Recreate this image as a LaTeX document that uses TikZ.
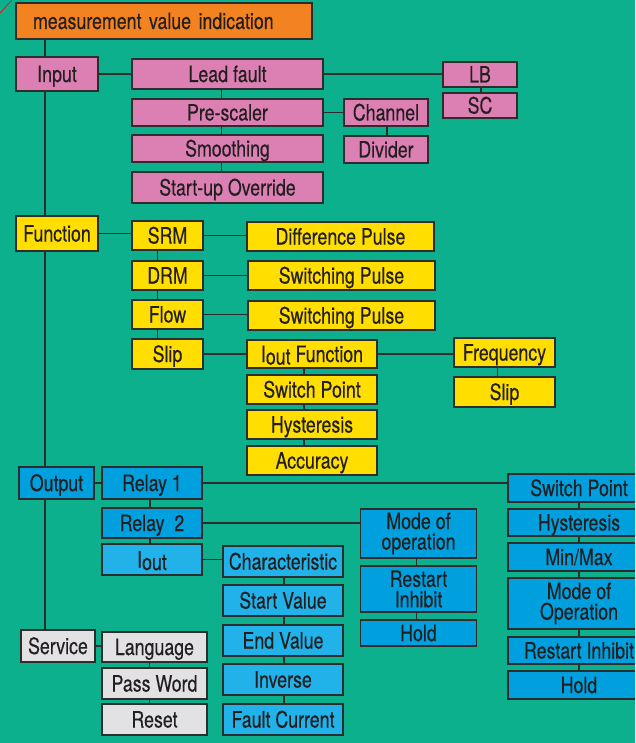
\documentclass[tikz,border=0pt]{standalone}
\usepackage{fontspec}
\setmainfont{TeX Gyre Heros}[FakeStretch=0.79,FakeBold=0.3]
\usetikzlibrary{positioning}

\definecolor{bg}{RGB}{12,176,141}
\definecolor{edge}{RGB}{45,45,45}
\definecolor{ink}{RGB}{35,31,32}
\definecolor{orangefill}{RGB}{243,130,33}
\definecolor{pinkfill}{RGB}{220,128,180}
\definecolor{yellowfill}{RGB}{255,222,0}
\definecolor{bluefill}{RGB}{0,160,222}
\definecolor{lightblue}{RGB}{32,178,232}
\definecolor{greyfill}{RGB}{226,226,228}

\newcommand{\Iout}{I\raisebox{-2.5pt}{out}}

\begin{document}
\begin{tikzpicture}[x=1pt,y=-1pt,
    box/.style={draw=edge,line width=1.2pt,text=ink,inner sep=0pt,align=center,
                text height=16pt,text depth=0pt,font=\fontsize{22.5}{20.5}\selectfont},
    twoline/.style={text height=,text depth=},
    wh/.style 2 args={minimum width=#1pt,minimum height=#2pt},
    orangebox/.style={box,fill=orangefill},
    pinkbox/.style={box,fill=pinkfill},
    yellowbox/.style={box,fill=yellowfill},
    bluebox/.style={box,fill=bluefill},
    lightbox/.style={box,fill=lightblue},
    greybox/.style={box,fill=greyfill},
    link/.style={draw=edge,line width=1.2pt}]

    % page and background
    \useasboundingbox (0,0) rectangle (635,743);
    \clip (0,0) rectangle (635,743);
    \fill[bg] (0,0) rectangle (635,743);
    \draw[red,line width=0.6pt] (0,13) -- (12,0);

    % top bar
    \node[orangebox,text width=262pt,inner xsep=17pt,minimum height=36pt,align=left] (title) at (164,21) {measurement value indication};

    % input
    \node[pinkbox,wh={82}{34}] (input) at (57,74) {Input};
    \node[pinkbox,wh={191}{30}] (lead) at (227.5,74) {Lead fault};
    \node[pinkbox,wh={191}{27}] (pre) at (227.5,112.5) {Pre-scaler};
    \node[pinkbox,wh={191}{27}] (smooth) at (227.5,148.5) {Smoothing};
    \node[pinkbox,wh={191}{31}] (startup) at (227.5,187.5) {Start-up Override};
    \node[pinkbox,wh={74}{25}] (lb) at (480,74.5) {LB};
    \node[pinkbox,wh={74}{25}] (sc) at (480,105.5) {SC};
    \node[pinkbox,wh={84}{27}] (channel) at (386,112.5) {Channel};
    \node[pinkbox,wh={84}{27}] (divider) at (386,149.5) {Divider};

    % function
    \node[yellowbox,wh={82}{35}] (function) at (57,233.5) {Function};
    \node[yellowbox,wh={71}{29}] (srm) at (167.5,235.5) {SRM};
    \node[yellowbox,wh={71}{29}] (drm) at (167.5,275.5) {DRM};
    \node[yellowbox,wh={71}{29}] (flow) at (167.5,314.5) {Flow};
    \node[yellowbox,wh={71}{30}] (slip) at (167.5,354) {Slip};
    \node[yellowbox,wh={187}{29}] (diff) at (340.5,236.5) {Difference Pulse};
    \node[yellowbox,wh={187}{29}] (swpa) at (341.5,275.5) {Switching Pulse};
    \node[yellowbox,wh={187}{29}] (swpb) at (341.5,315.5) {Switching Pulse};
    \node[yellowbox,wh={130}{28}] (ioutf) at (312,354) {\Iout\ Function};
    \node[yellowbox,wh={130}{29}] (swpt) at (312,389.5) {Switch Point};
    \node[yellowbox,wh={130}{29}] (hyst) at (312,424.5) {Hysteresis};
    \node[yellowbox,wh={130}{29}] (accu) at (312,460.5) {Accuracy};
    \node[yellowbox,wh={101}{29}] (freq) at (504.5,352.5) {Frequency};
    \node[yellowbox,wh={101}{30}] (slipb) at (504.5,392) {Slip};

    % output
    \node[bluebox,wh={75}{32}] (output) at (56.5,483) {Output};
    \node[bluebox,wh={100}{32}] (relaya) at (152,483) {Relay 1};
    \node[bluebox,wh={100}{30}] (relayb) at (152,523) {Relay~~2};
    \node[lightbox,wh={100}{31}] (iout) at (152,559.5) {\Iout};
    \node[lightbox,wh={120}{31}] (charac) at (283,561.5) {Characteristic};
    \node[lightbox,wh={120}{31}] (startv) at (283,600.5) {Start Value};
    \node[lightbox,wh={120}{31}] (endv) at (283,640.5) {End Value};
    \node[lightbox,wh={120}{31}] (inverse) at (283,679.5) {Inverse};
    \node[lightbox,wh={120}{31}] (fault) at (283,719.5) {Fault Current};
    \node[bluebox,twoline,wh={116}{49}] (modeop) at (418.5,533.5) {Mode of\\operation};
    \node[bluebox,twoline,wh={116}{46}] (restart) at (418.5,589) {Restart\\Inhibit};
    \node[bluebox,wh={116}{26}] (hold) at (418.5,633) {Hold};
    \node[bluebox,wh={142}{28}] (rsw) at (579,488) {Switch Point};
    \node[bluebox,wh={142}{27}] (rhyst) at (579,522.5) {Hysteresis};
    \node[bluebox,wh={142}{28}] (rminmax) at (579,557) {Min/Max};
    \node[bluebox,twoline,wh={142}{51}] (rmode) at (579,603.5) {Mode of\\Operation};
    \node[bluebox,wh={142}{27}] (rrestart) at (579,650.5) {Restart Inhibit};
    \node[bluebox,wh={142}{28}] (rhold) at (579,685) {Hold};

    % service
    \node[greybox,wh={74}{32}] (service) at (58,646) {Service};
    \node[greybox,wh={105}{30}] (lang) at (154.5,647) {Language};
    \node[greybox,wh={105}{31}] (pass) at (154.5,683.5) {Pass Word};
    \node[greybox,wh={105}{31}] (reset) at (154.5,719.5) {Reset};

    % main trunk
    \coordinate (trunk) at (45,0);
    \foreach \a/\b in {title/input,input/function,function/output,output/service}
        \draw[link] (\a.south -| trunk) -- (\b.north -| trunk);

    % horizontal links
    \foreach \a/\b in {input/lead,lead/lb,pre/channel,function/srm,srm/diff,drm/swpa,
                       flow/swpb,slip/ioutf,ioutf/freq,output/relaya,relaya/rsw,
                       relayb/modeop,iout/charac,service/lang}
        \draw[link] (\a.east) -- (\a.east -| \b.west);

    % vertical links in the columns
    \foreach \a/\b/\s in {lead/pre/-6,pre/smooth/-6,smooth/startup/-6,lb/sc/1,
                          channel/divider/1,srm/drm/-10,drm/flow/-10,flow/slip/-10,
                          ioutf/swpt/-8,swpt/hyst/-8,hyst/accu/-8,freq/slipb/-7,
                          relaya/relayb/-2,relayb/iout/-2,charac/startv/1,startv/endv/1,
                          endv/inverse/1,inverse/fault/1,modeop/restart/-2,restart/hold/-2,
                          rsw/rhyst/0,rhyst/rminmax/0,rminmax/rmode/0,rmode/rrestart/0,
                          rrestart/rhold/0,lang/pass/-5,pass/reset/-5}
        \draw[link] ([xshift=\s pt]\a.south) -- ([xshift=\s pt]\b.north);
\end{tikzpicture}
\end{document}
